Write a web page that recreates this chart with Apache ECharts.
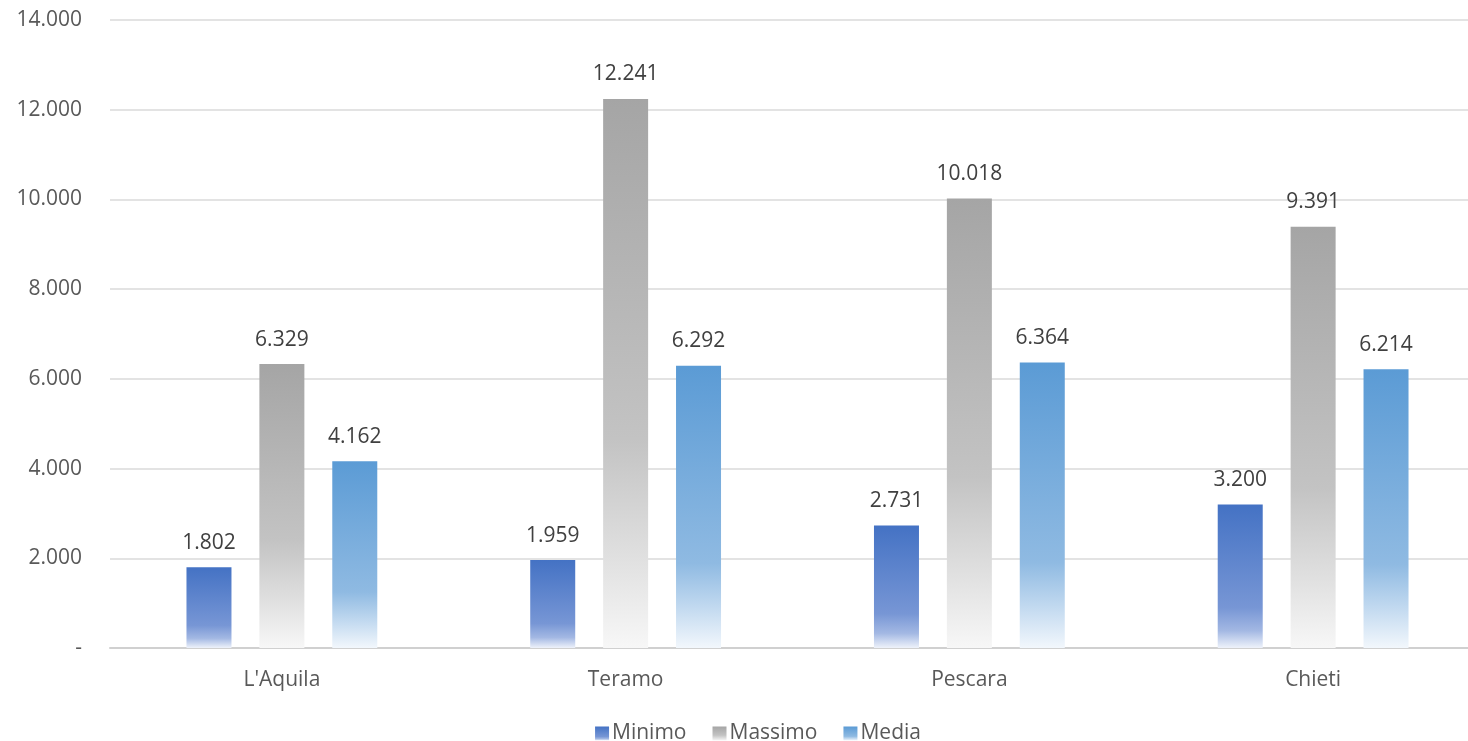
<!DOCTYPE html>
<html>
<head>
<meta charset="utf-8">
<script src="https://cdn.jsdelivr.net/npm/echarts@6/dist/echarts.min.js"></script>
<style>
html,body{margin:0;padding:0;background:#fff;overflow:hidden;}
#c{width:1516px;height:741px;}
</style>
</head>
<body>
<div id="c"></div>
<script>
var categories = ["L'Aquila", "Teramo", "Pescara", "Chieti"];
var minimo = [1802, 1959, 2731, 3200];
var massimo = [6329, 12241, 10018, 9391];
var media = [4162, 6292, 6364, 6214];
var seriesNames = ["Minimo", "Massimo", "Media"];

function fmt(v) {
  if (v === 0) return '-';
  return String(Math.round(v)).replace(/\B(?=(\d{3})+(?!\d))/g, '.');
}
function grad(stops) {
  return new echarts.graphic.LinearGradient(0, 0, 0, 1, stops.map(function (s) { return {offset: s[0], color: s[1]}; }));
}
var fills = [
  grad([[0, '#4472C4'], [0.72, '#7796D5'], [0.88, '#A3B8E3'], [1, '#EEF2FA']]),
  grad([[0, '#A5A5A5'], [0.62, '#C3C3C3'], [0.85, '#E2E2E2'], [1, '#F7F7F7']]),
  grad([[0, '#5B9BD5'], [0.7, '#8FBAE2'], [0.86, '#C3DAF0'], [1, '#F2F7FC']])
];
var font = 'Open Sans';
var fs = 21;
var datasets = [minimo, massimo, media];

var chart = echarts.init(document.getElementById('c'));
chart.setOption({
  animation: false,
  textStyle: {fontFamily: font},
  grid: {left: 110, top: 20, right: 31, bottom: 93, containLabel: false},
  legend: {
    data: seriesNames,
    top: 718,
    left: 'center',
    itemWidth: 14,
    itemHeight: 14,
    itemGap: 26,
    icon: 'rect',
    textStyle: {fontFamily: font, fontSize: fs, color: '#595959', padding: [0, 0, 0, -2]}
  },
  xAxis: {
    type: 'category',
    data: categories,
    axisLine: {lineStyle: {color: '#D0D0D0', width: 2}},
    axisTick: {show: false},
    axisLabel: {fontFamily: font, fontSize: fs, color: '#595959', margin: 22}
  },
  yAxis: {
    type: 'value',
    min: 0, max: 14000, interval: 2000,
    axisLine: {show: false},
    axisTick: {show: false},
    splitLine: {lineStyle: {color: '#E3E3E3', width: 2}},
    axisLabel: {fontFamily: font, fontSize: fs, color: '#595959', margin: 28, formatter: fmt}
  },
  series: seriesNames.map(function (n, i) {
    return {
      name: n,
      type: 'bar',
      data: datasets[i],
      barWidth: 45,
      barGap: '62%',
      itemStyle: {color: fills[i]},
      label: {
        show: true, position: 'top', distance: 14,
        fontFamily: font, fontSize: fs, color: '#404040',
        formatter: function (p) { return fmt(p.value); }
      }
    };
  })
});
</script>
</body>
</html>
